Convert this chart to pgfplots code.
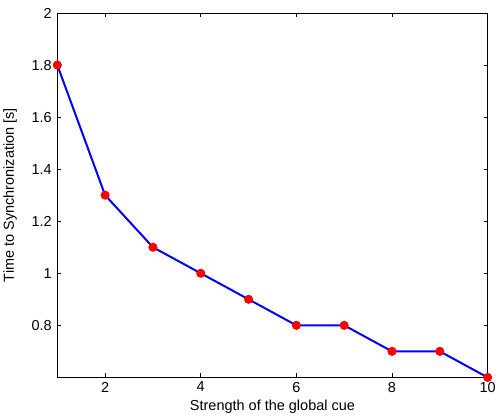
\documentclass[border=0pt]{standalone}
\usepackage{pgfplots}
\pgfplotsset{compat=1.18}
\usepackage{fontspec}
\setmainfont{Liberation Sans}
\begin{document}
\begin{tikzpicture}
\begin{axis}[
  scale only axis,
  width=431pt, height=365pt,
  xmin=1, xmax=10, ymin=0.6, ymax=2,
  xtick={2,4,6,8,10},
  ytick={0.8,1,1.2,1.4,1.6,1.8,2},
  yticklabels={0.8,1,1.2,1.4,1.6,1.8,2},
  tick align=inside,
  major tick length=4pt,
  tick style={black, line width=0.6pt},
  axis line style={black, line width=0.8pt},
  /pgf/number format/assume math mode=true,
  tick label style={font=\fontsize{14.5}{16}\selectfont},
  yticklabel style={xshift=-2pt},
  xticklabel style={yshift=-1pt},
  label style={font=\fontsize{14.5}{16}\selectfont},
  xlabel={Strength of the global cue},
  ylabel={Time to Synchronization [s]},
  xlabel style={yshift=-1pt},
  ylabel style={yshift=8pt},
  clip=false,
]
\addplot[blue, line width=2pt, mark=*, mark size=3.5pt, mark options={red, fill=red, draw=red}]
coordinates {(1,1.8)(2,1.3)(3,1.1)(4,1.0)(5,0.9)(6,0.8)(7,0.8)(8,0.7)(9,0.7)(10,0.6)};
\end{axis}
\path ([yshift=13pt]current axis.north west);
\end{tikzpicture}
\end{document}
